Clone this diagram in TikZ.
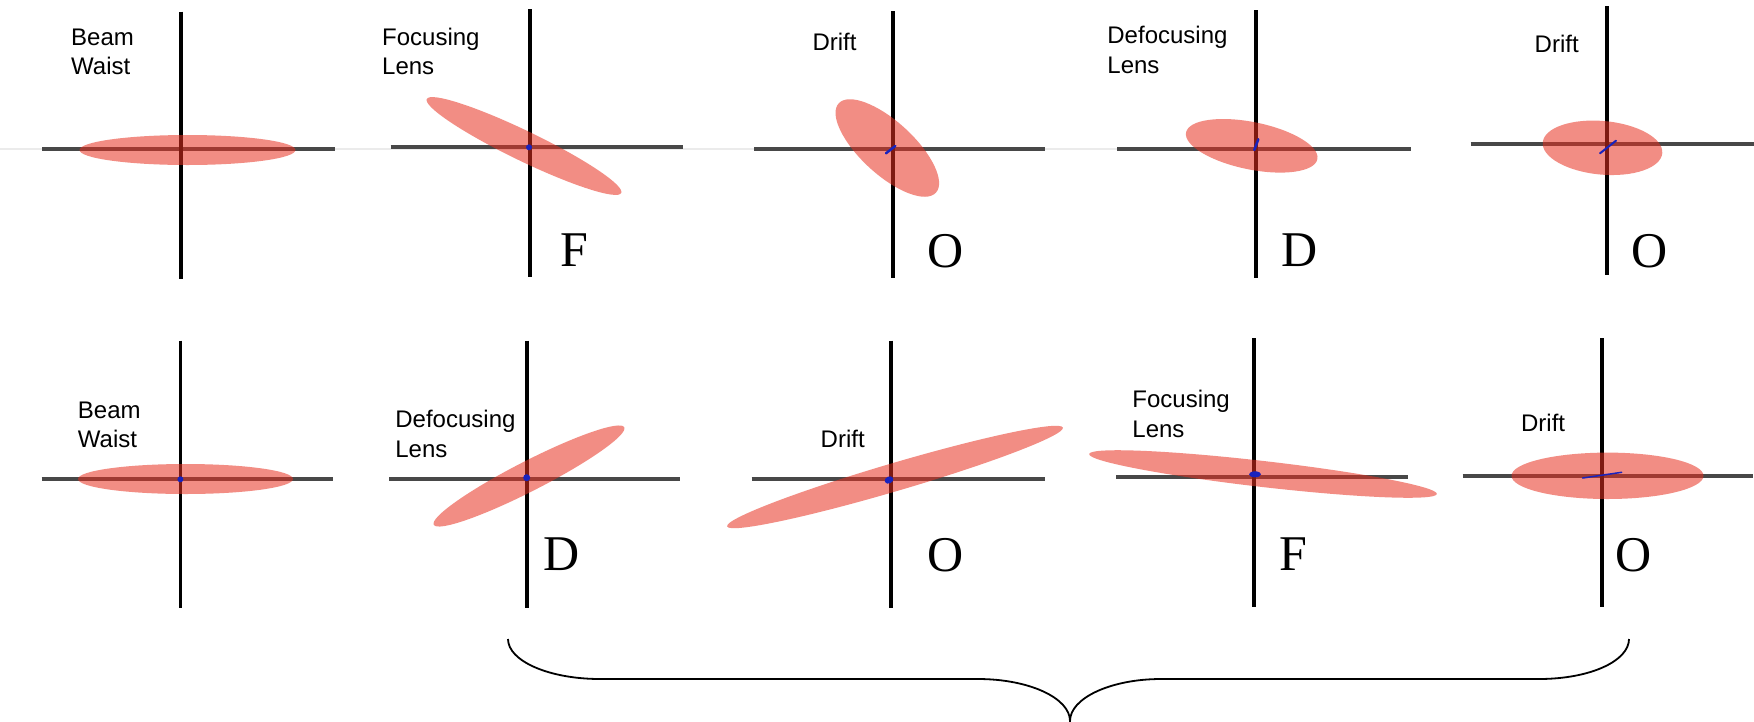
\documentclass[tikz,border=0pt]{standalone}
\usepackage{fontspec}
\setmainfont{Liberation Serif}
\newfontfamily\labelfont{Liberation Sans}
\definecolor{axisgray}{RGB}{72,72,72}
\definecolor{beamred}{RGB}{232,48,32}
\definecolor{dotblue}{RGB}{25,35,190}
\begin{document}
\begin{tikzpicture}[x=1pt,y=-1pt,
  xaxis/.style={draw=axisgray, line width=3.8pt},
  yaxis/.style={draw=black, line width=3.8pt},
  beam/.style={fill=beamred, fill opacity=0.55},
  centre/.style={fill=dotblue},
  tilt/.style={draw=dotblue, line width=2.5pt, line cap=round},
  caption/.style={font=\labelfont\fontsize{24}{29.5}\selectfont, align=left, anchor=north west, inner sep=0pt},
  lens/.style={font=\fontsize{50}{60}\selectfont, anchor=base west, inner sep=0pt},
]
\fill[white] (0,0) rectangle (1754,721);
\useasboundingbox (0,0) rectangle (1754,721);

% faint guide through the upper row
\draw[black!8, line width=1.5pt] (0,149) -- (1410,149);

% ---------------- upper row ----------------
% beam waist
\draw[xaxis] (42,149) -- (335,149);
\draw[yaxis] (180.8,11.7) -- (180.8,279);
\fill[beam] (187.5,150) ellipse [x radius=108, y radius=15];
\node[caption] (t1) at (71,28.3) {Beam\\Waist};

% focusing lens
\draw[xaxis] (390.6,147.3) -- (683,147.3);
\draw[yaxis] (530,9.3) -- (530,277.3);
\fill[beam, rotate around={-25.8:(524,146)}] (524,146) ellipse [x radius=108, y radius=15];
\fill[centre] (529,147.3) circle [radius=3];
\node[caption] (t2) at (382,27.7) {Focusing\\Lens};
\node[lens] (t2k) at (560.5,266.7) {F};

% drift
\draw[xaxis] (754,149) -- (1045,149);
\draw[yaxis] (892.7,11) -- (892.7,278);
\fill[beam, rotate around={-42.6:(887.3,148)}] (887.3,148) ellipse [x radius=66, y radius=26.5];
\draw[tilt] (886,153.3) -- (895.3,146);
\node[caption] (t3) at (812.3,33.3) {Drift};
\node[lens] (t3k) at (927.6,267.3) {O};

% defocusing lens
\draw[xaxis] (1117.3,149) -- (1410.7,149);
\draw[yaxis] (1255.7,10) -- (1255.7,278.3);
\fill[beam, rotate around={-11.5:(1251.7,145.8)}] (1251.7,145.8) ellipse [x radius=67, y radius=23.7];
\draw[tilt] (1254.3,150) -- (1258.3,139.3);
\node[caption] (t4) at (1107.2,26) {Defocusing\\Lens};
\node[lens] (t4k) at (1280.9,266.7) {D};

% drift
\draw[xaxis] (1470.7,144.3) -- (1754,144.3);
\draw[yaxis] (1607.3,6) -- (1607.3,275);
\fill[beam, rotate around={-5.2:(1602.5,147.8)}] (1602.5,147.8) ellipse [x radius=60, y radius=26.8];
\draw[tilt, line width=2pt] (1600,153.3) -- (1616,140.7);
\node[caption] (t5) at (1534.5,35) {Drift};
\node[lens] (t5k) at (1631.3,267.3) {O};

% ---------------- lower row ----------------
% beam waist
\draw[xaxis] (41.5,479) -- (332.6,479);
\draw[yaxis] (180.4,340.7) -- (180.4,608.3);
\fill[beam] (185.5,479) ellipse [x radius=107.5, y radius=15];
\fill[centre] (180.4,479.3) circle [radius=3];
\node[caption] (b1) at (77.7,401.7) {Beam\\Waist};

% defocusing lens
\draw[xaxis] (389,478.7) -- (680,478.7);
\draw[yaxis] (526.7,340.7) -- (526.7,608.3);
\fill[beam, rotate around={27.1:(529,476)}] (529,476) ellipse [x radius=107, y radius=15];
\fill[centre] (526.7,477.7) circle [radius=3.5];
\node[caption] (b2) at (395.2,410) {Defocusing\\Lens};
\node[lens] (b2k) at (543.5,570) {D};

% drift
\draw[xaxis] (751.7,478.7) -- (1045,478.7);
\draw[yaxis] (891,340.7) -- (891,608.3);
\fill[beam, rotate around={16.4:(895,477)}] (895,477) ellipse [x radius=175, y radius=14];
\fill[centre, rotate around={25:(889,480)}] (889,480) ellipse [x radius=4.5, y radius=3.5];
\node[caption] (b3) at (820.5,430) {Drift};
\node[lens] (b3k) at (927.6,571) {O};

% focusing lens
\draw[xaxis] (1116,476.7) -- (1408.3,476.7);
\draw[yaxis] (1253.7,338.3) -- (1253.7,606.7);
\fill[beam, rotate around={-6.55:(1263,474)}] (1263,474) ellipse [x radius=175, y radius=13];
\fill[centre] (1255,474.3) ellipse [x radius=6, y radius=3];
\node[caption] (b4) at (1132.2,390) {Focusing\\Lens};
\node[lens] (b4k) at (1279.4,570.7) {F};

% drift
\draw[xaxis] (1462.7,476) -- (1752.7,476);
\draw[yaxis] (1601.7,338.3) -- (1601.7,606.7);
\fill[beam] (1607.5,475.8) ellipse [x radius=96, y radius=23.2];
\draw[tilt, line width=1.5pt] (1582.7,478) -- (1621.7,472.3);
\node[caption] (b5) at (1520.9,414.3) {Drift};
\node[lens] (b5k) at (1615,571) {O};

% brace spanning the repeated lattice cell
\draw[line width=1.8pt] (508,639) .. controls (508,661) and (549,679) .. (600,679)
  -- (978,679) .. controls (1029,679) and (1070,698) .. (1070,721)
  .. controls (1070,698) and (1111,679) .. (1161,679)
  -- (1539,679) .. controls (1590,679) and (1629,661) .. (1629,639);
\end{tikzpicture}
\end{document}
